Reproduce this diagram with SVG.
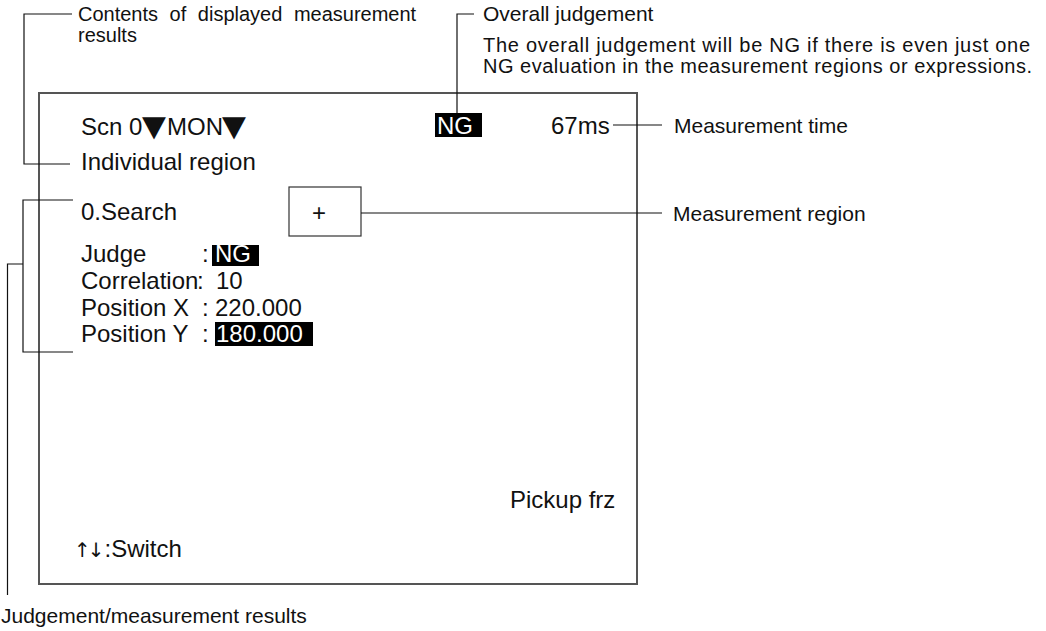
<svg xmlns="http://www.w3.org/2000/svg" width="1046" height="631" viewBox="0 0 1046 631">
<style>
.ann{font-family:"Liberation Sans",Arial,sans-serif;font-size:21px;fill:#111}
.ann2{font-family:"Liberation Sans",Arial,sans-serif;font-size:20px;fill:#111}
.scr{font-family:"Liberation Sans",Arial,sans-serif;font-size:24px;fill:#111}
.tri{font-family:"DejaVu Sans",sans-serif;font-size:29px;fill:#111}
.arw{font-family:"DejaVu Sans",sans-serif;font-size:20px;letter-spacing:-3px}
.inv{font-family:"Liberation Sans",Arial,sans-serif;font-size:24px;fill:#fff}
.ln{stroke:#111;stroke-width:1.2;fill:none}
.hl{fill:#000}
</style>
<rect width="1046" height="631" fill="#fff"/>
<g id="screen">
<rect x="39" y="93" width="598" height="491" fill="none" stroke="#555" stroke-width="2"/>
<text class="scr" x="81" y="135">Scn 0</text>
<text class="tri" x="142" y="136" textLength="24" lengthAdjust="spacingAndGlyphs">▼</text>
<text class="scr" x="167" y="135">MON</text>
<text class="tri" x="222" y="136" textLength="24" lengthAdjust="spacingAndGlyphs">▼</text>
<rect class="hl" x="435" y="113" width="47" height="24"/>
<text class="inv" x="437" y="134">NG</text>
<text class="scr" x="551" y="134">67ms</text>
<text class="scr" x="81" y="170">Individual region</text>
<text class="scr" x="81" y="220">0.Search</text>
<text class="scr" x="81" y="262">Judge</text>
<text class="scr" x="202" y="262">:</text>
<rect class="hl" x="212" y="245" width="47" height="21"/>
<text class="inv" x="215" y="262">NG</text>
<text class="scr" x="81" y="289">Correlation</text>
<text class="scr" x="197" y="289">:</text>
<text class="scr" x="216" y="289">10</text>
<text class="scr" x="81" y="316">Position X</text>
<text class="scr" x="202" y="316">:</text>
<text class="scr" x="215" y="316">220.000</text>
<text class="scr" x="81" y="342">Position Y</text>
<text class="scr" x="202" y="342">:</text>
<rect class="hl" x="215" y="322" width="98" height="24"/>
<text class="inv" x="216" y="342">180.000</text>
<text class="scr" x="510" y="508">Pickup frz</text>
<text class="scr" x="74" y="557"><tspan class="arw">↑↓</tspan><tspan dx="3">:Switch</tspan></text>
</g>
<g id="region-box">
<rect x="289" y="187" width="72" height="49" fill="#fff" stroke="#333" stroke-width="1.2"/>
<text class="scr" x="319" y="221" text-anchor="middle">+</text>
</g>
<g id="labels">
<text class="ann2" x="78" y="21" word-spacing="6">Contents of displayed measurement</text>
<text class="ann2" x="78" y="42">results</text>
<text class="ann" x="483" y="21">Overall judgement</text>
<text class="ann2" x="483" y="52" textLength="547">The overall judgement will be NG if there is even just one</text>
<text class="ann2" x="483" y="73" textLength="549">NG evaluation in the measurement regions or expressions.</text>
<text class="ann" x="674" y="133">Measurement time</text>
<text class="ann" x="673" y="221">Measurement region</text>
<text class="ann" x="1" y="623">Judgement/measurement results</text>
</g>
<g id="connectors">
<polyline class="ln" points="72,14 24,14 24,164 70,164"/>
<polyline class="ln" points="474,14 457,14 457,113"/>
<line class="ln" x1="613" y1="125" x2="662" y2="125"/>
<line class="ln" x1="361" y1="213" x2="662" y2="213"/>
<polyline class="ln" points="73,200 23,200 23,352 73,352"/>
<polyline class="ln" points="23,264 7.5,264 7.5,595"/>
</g>
</svg>
